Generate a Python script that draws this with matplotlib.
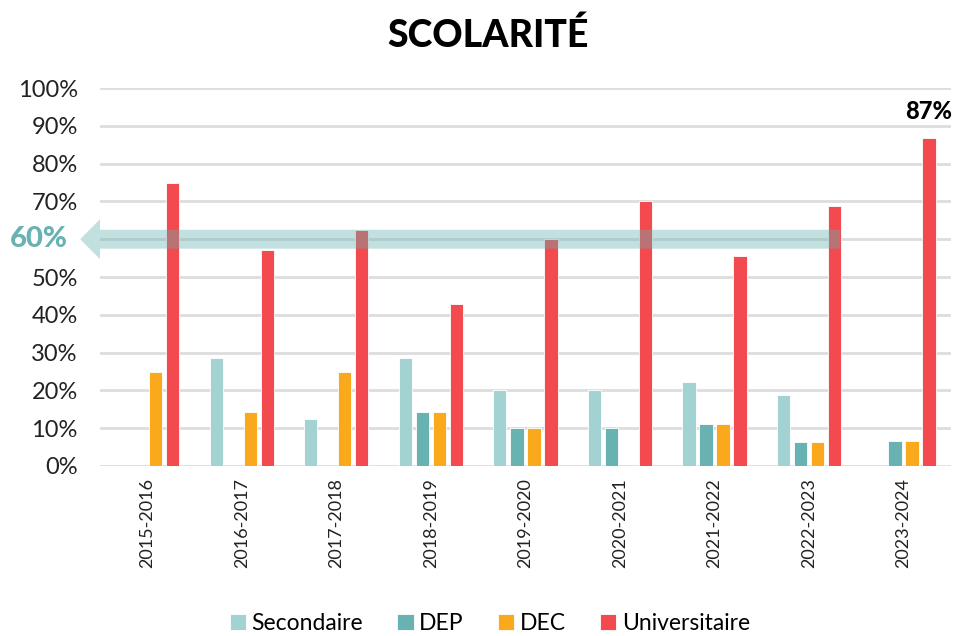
import matplotlib
matplotlib.use("Agg")
import matplotlib.pyplot as plt
import numpy as np
from matplotlib.patches import FancyArrow

plt.rcParams['font.family'] = ['Lato', 'DejaVu Sans']

# données
annees = ['2015-2016', '2016-2017', '2017-2018', '2018-2019', '2019-2020',
          '2020-2021', '2021-2022', '2022-2023', '2023-2024']
secondaire = [0, 28.6, 12.5, 28.6, 20, 20, 22.2, 18.75, 0]
dep = [0, 0, 0, 14.3, 10, 10, 11.1, 6.25, 6.7]
dec = [25, 14.3, 25, 14.3, 10, 0, 11.1, 6.25, 6.7]
universitaire = [75, 57.1, 62.5, 42.9, 60, 70, 55.6, 68.75, 86.7]
series = ['Secondaire', 'DEP', 'DEC', 'Universitaire']
couleurs = ['#a2d2d1', '#68b3b1', '#f9a91b', '#f24a4e']
cible = 60

fig = plt.figure(figsize=(9.57, 6.36), dpi=100)
ax = fig.add_axes([0.1045, 0.2673, 0.889, 0.5943])

x = np.arange(len(annees))
larg = 0.14
pas = 0.18
for i, (vals, nom, c) in enumerate(zip([secondaire, dep, dec, universitaire], series, couleurs)):
    ax.bar(x + (i - 1.5) * pas, vals, width=larg, color=c, label=nom,
           edgecolor='white', linewidth=0.6, zorder=3)

ax.set_xlim(-0.5, len(annees) - 0.5)
ax.set_ylim(0, 100)
ticks = np.arange(0, 101, 10)
ax.set_yticks(ticks)
# le 60% est remplacé par l'étiquette de la flèche
ax.set_yticklabels(['' if v == cible else f'{v}%' for v in ticks], fontsize=17, color='#222222')
ax.set_xticks(x)
ax.set_xticklabels(annees, rotation=90, fontsize=13, color='#222222')
ax.tick_params(axis='both', length=0)
ax.tick_params(axis='y', pad=16)
ax.tick_params(axis='x', pad=9)
ax.grid(axis='y', color='#dddddd', linewidth=2, zorder=0)
for s in ax.spines.values():
    s.set_visible(False)

# flèche 60%
x0, x1 = 7.33, -0.71
ax.add_patch(FancyArrow(x0, cible, x1 - x0, 0, width=5.0,
                        head_width=10.6, head_length=0.21, length_includes_head=True,
                        color='#68b3b1', alpha=0.4, lw=0, zorder=4, clip_on=False))
ax.text(-1.15, cible, '60%', color='#68b3b1', fontsize=21, fontweight='black',
        ha='center', va='center', clip_on=False)

# étiquette 87%
ax.text(x[-1] + 0.27, universitaire[-1] + 7, f'{round(universitaire[-1])}%',
        fontsize=17, fontweight='black', ha='center', va='center', color='black')

fig.suptitle('SCOLARITÉ', fontsize=27, fontweight='black', x=0.51, y=0.972)

fig.legend(loc='lower center', bbox_to_anchor=(0.512, -0.03), ncol=4, frameon=False,
           fontsize=16.5, handlelength=0.7, handleheight=0.7, handletextpad=0.25,
           columnspacing=1.5)

fig.savefig('out.png', dpi=100)
